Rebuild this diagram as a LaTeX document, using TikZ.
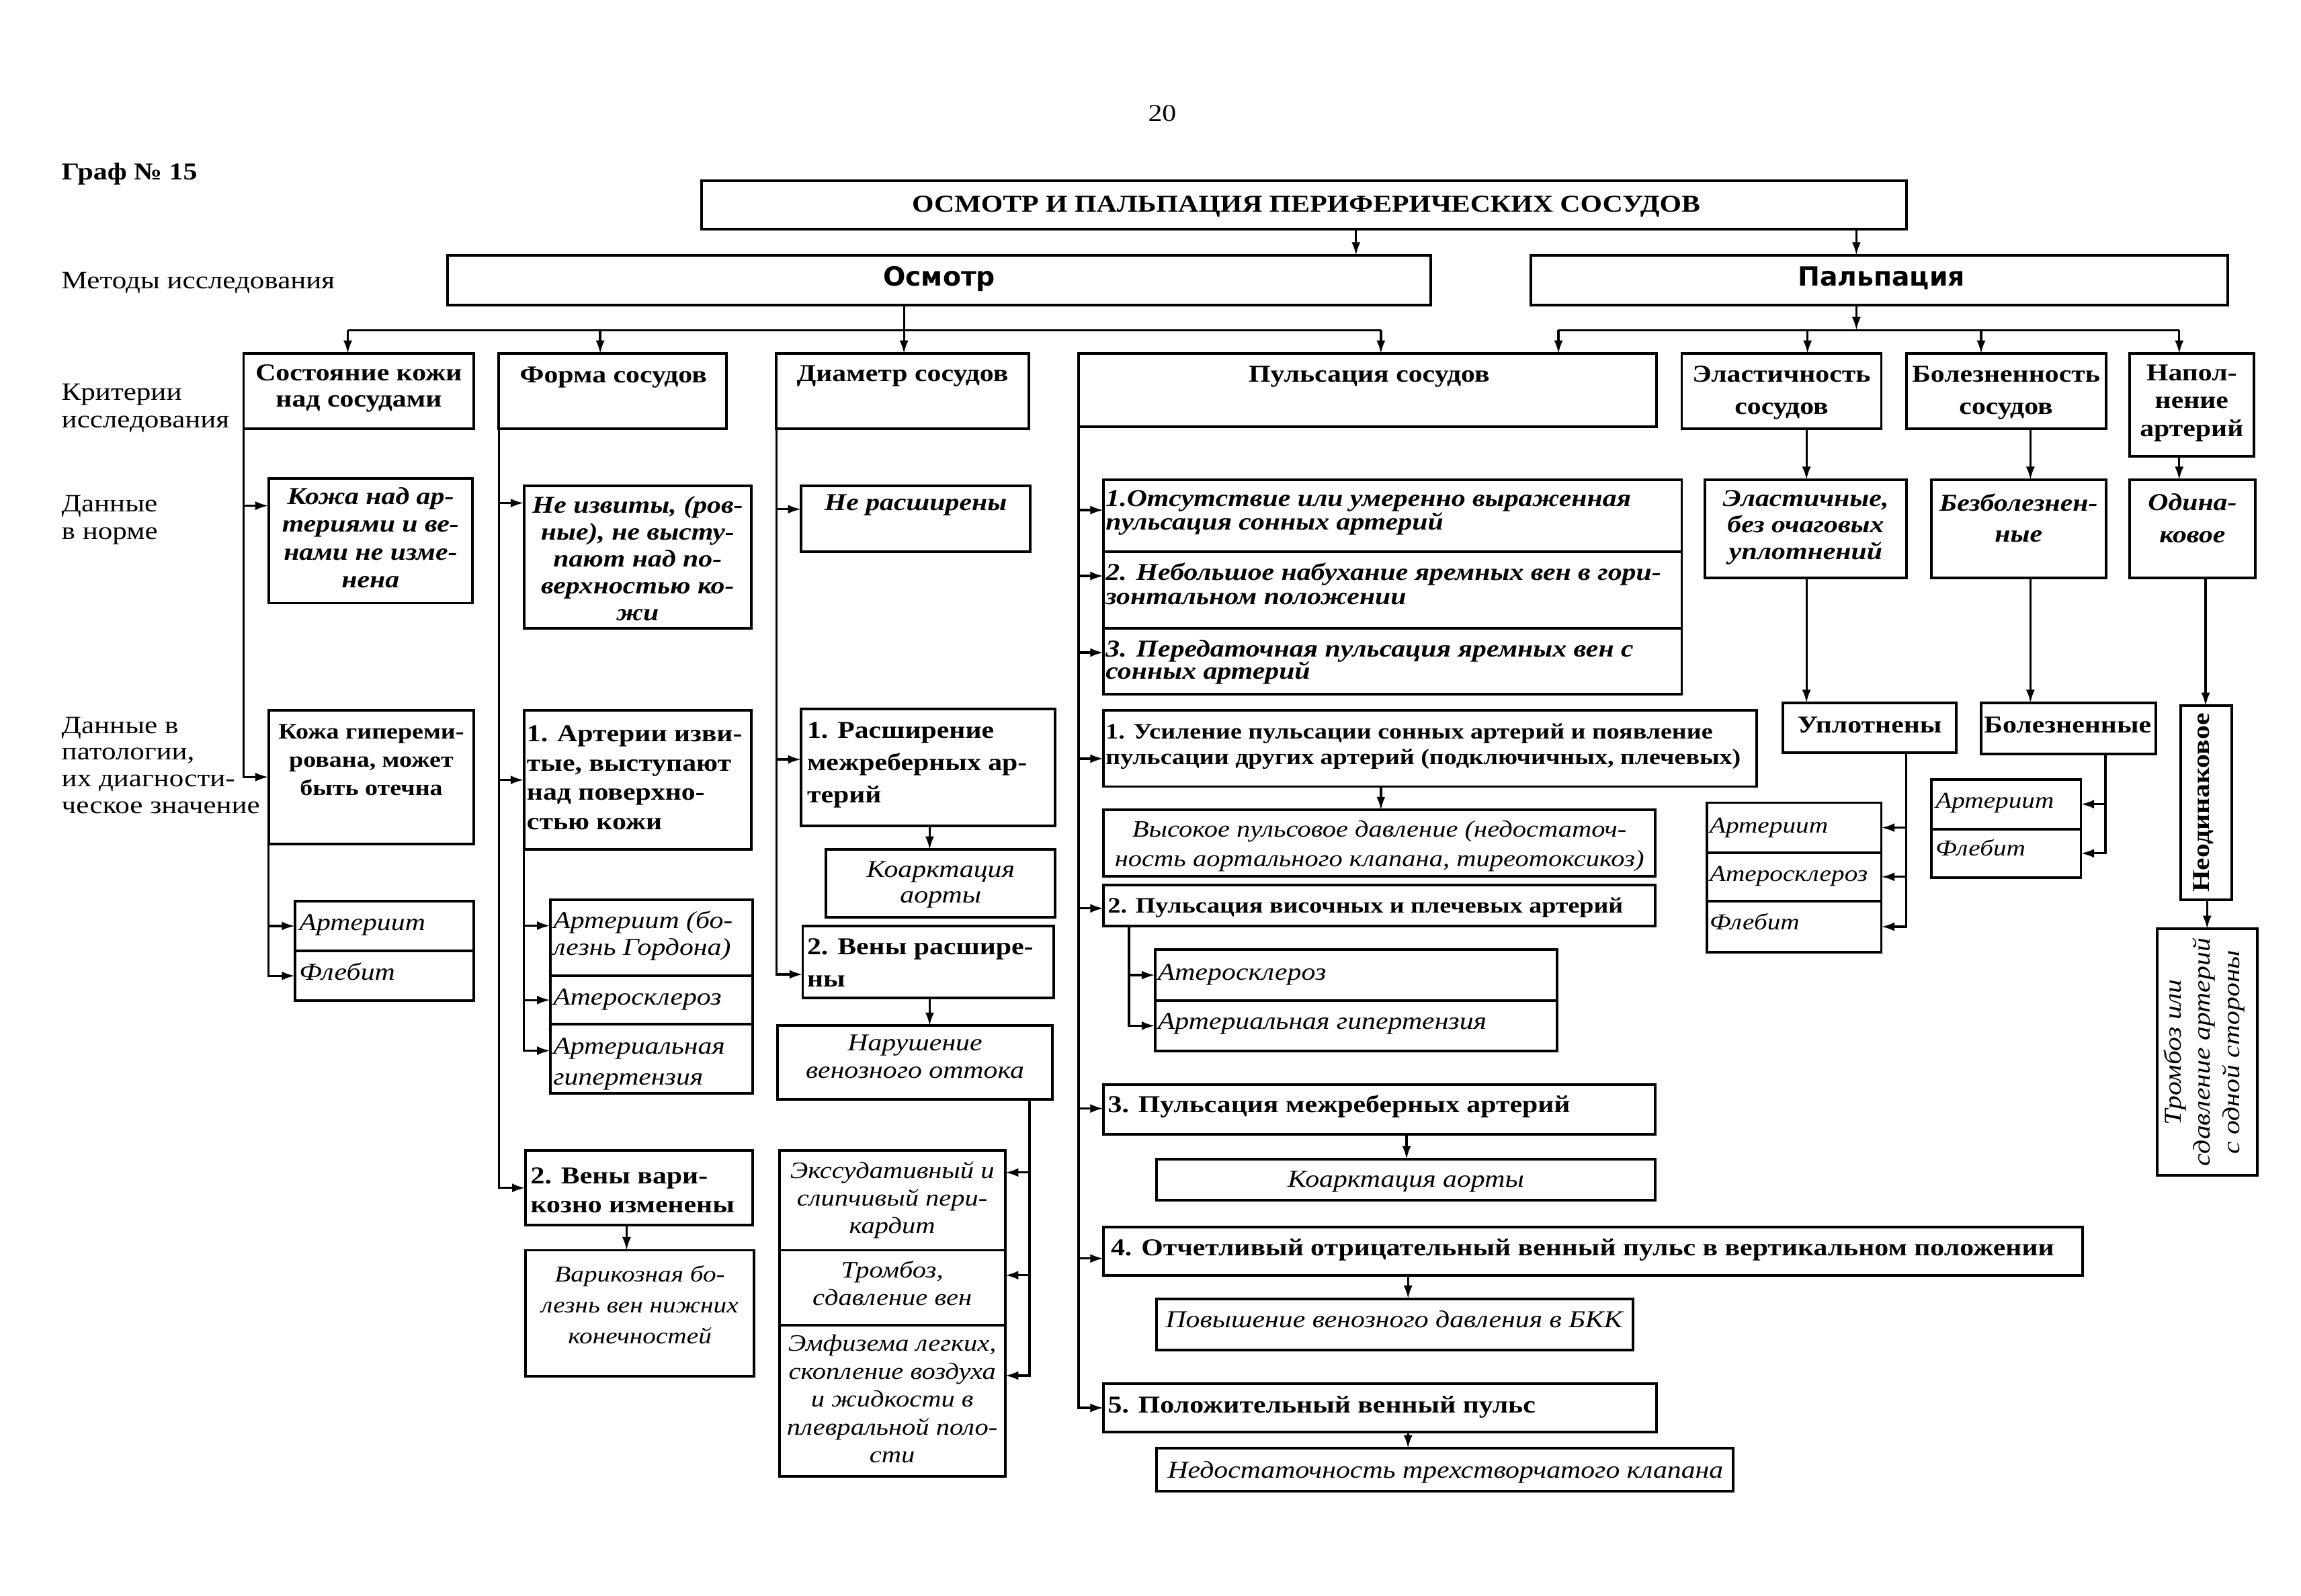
\documentclass[tikz,border=0pt]{standalone}
\usepackage{fontspec}
\setmainfont[FakeStretch=1.16]{Liberation Serif}
\newfontfamily\hsans{DejaVu Sans}
\usetikzlibrary{arrows.meta}
\newcommand{\myfs}[2]{\fontsize{#1}{#2}\selectfont}
\newcommand{\mkbox}[5]{\node[bx, minimum width={(#4)-(#2)}, minimum height={(#5)-(#3)}] (#1) at ({((#2)+(#4))/2},{((#3)+(#5))/2}) {};}
\tikzset{
 bx/.style={draw, line width=1.8pt, inner sep=0pt, outer sep=0pt},
 ln/.style={line width=1.5pt},
 arr/.style={line width=1.5pt, -{Latex[length=9pt,width=6pt]}},
 txt/.style={inner sep=0pt, outer sep=0pt, font=\myfs{16.5}{18}},
 txc/.style={txt, align=center, anchor=north, yshift=-1.5pt},
 txl/.style={txt, align=left, anchor=north west, yshift=-1.5pt},
 one/.style={txt, anchor=mid, yshift=-2.5pt},
 onel/.style={txt, anchor=mid west, yshift=-2.5pt},
 bf/.style={font=\bfseries\myfs{16.5}{18}},
 it/.style={font=\itshape\myfs{16.5}{18}},
 its/.style={font=\itshape\myfs{15.5}{18}},
 bi/.style={font=\bfseries\itshape\myfs{16.5}{18}},
}
\begin{document}
\begin{tikzpicture}[x=1pt,y=-1pt]
\useasboundingbox (0,0) rectangle (1568,1087.6);
\fill[white] (0,0) rectangle (1568,1087.6);
% ---------- boxes ----------
\mkbox{T}{478}{123}{1299}{156}
\mkbox{O}{305}{174}{975}{208}
\mkbox{P}{1043}{174}{1518}{208}
\mkbox{C1}{166}{241}{323}{292}
\mkbox{C2}{340}{241}{495}{292}
\mkbox{C3}{529}{241}{701}{292}
\mkbox{C4}{735}{241}{1129}{291}
\mkbox{C5}{1146}{241}{1282}{292}
\mkbox{C6}{1299}{241}{1435}{292}
\mkbox{C7}{1451}{241}{1536}{311}
\mkbox{N1}{183}{326}{322}{411}
\mkbox{N2}{357}{331}{512}{428}
\mkbox{N3}{546}{331}{702}{376}
\mkbox{N4a}{752}{327}{1146}{376}
\mkbox{N4b}{752}{376}{1146}{428}
\mkbox{N4c}{752}{428}{1146}{473}
\mkbox{N5}{1162}{327}{1299}{394}
\mkbox{N6}{1316}{327}{1435}{394}
\mkbox{N7}{1451}{327}{1537}{394}
\mkbox{P1}{183}{484}{323}{575}
\mkbox{P1a}{201}{614}{323}{648}
\mkbox{P1b}{201}{648}{323}{682}
\mkbox{P2}{357}{484}{512}{579}
\mkbox{P2la}{375}{613}{513}{665}
\mkbox{P2lb}{375}{665}{513}{698}
\mkbox{P2lc}{375}{698}{513}{745}
\mkbox{V2}{358}{784}{513}{835}
\mkbox{V2r}{358}{852}{514}{938}
\mkbox{P3}{546}{483}{719}{563}
\mkbox{P3k}{563}{579}{719}{625}
\mkbox{P3v}{547}{631}{718}{680}
\mkbox{P3n}{530}{699}{717}{749}
\mkbox{S1}{531}{784}{685}{852}
\mkbox{S2}{531}{852}{685}{903}
\mkbox{S3}{531}{903}{685}{1006}
\mkbox{U1}{752}{484}{1197}{536}
\mkbox{U1r}{752}{552}{1128}{597}
\mkbox{U2}{752}{603}{1128}{631}
\mkbox{U2a}{787}{647}{1061}{682}
\mkbox{U2b}{787}{682}{1061}{716}
\mkbox{U3}{752}{739}{1128}{773}
\mkbox{U3r}{788}{790}{1128}{818}
\mkbox{U4}{752}{836}{1419}{869}
\mkbox{U4r}{788}{885}{1113}{920}
\mkbox{U5}{752}{943}{1129}{976}
\mkbox{U5r}{788}{987}{1181}{1016}
\mkbox{R1}{1215}{479}{1333}{513}
\mkbox{R1a}{1163}{547}{1282}{581}
\mkbox{R1b}{1163}{581}{1282}{614}
\mkbox{R1c}{1163}{614}{1282}{649}
\mkbox{R2}{1350}{479}{1469}{514}
\mkbox{R2a}{1316}{531}{1418}{565}
\mkbox{R2b}{1316}{565}{1418}{598}
\mkbox{R3}{1486}{481}{1521}{613}
\mkbox{R4}{1470}{633}{1538}{801}
% ---------- bus coordinates ----------
\coordinate (bA) at (237,225);
\coordinate (bF) at (409,225);
\coordinate (bB) at (941,225);
\coordinate (pA) at (1062,225);
\coordinate (pE) at (1231.7,225);
\coordinate (pB) at (1350,225);
\coordinate (pN) at (1485,225);
\coordinate (pP) at (1265,225);
% ---------- connectors: top ----------
\draw[arr] (T.south -| 924,0) -- (O.north -| 924,0);
\draw[arr] (T.south -| 1265,0) -- (P.north -| 1265,0);
\draw[arr] (O.south -| 616,0) -- (C3.north -| 616,0);
\draw[ln] (bA) -- (bB);
\draw[arr] (bA) -- (C1.north -| bA);
\draw[arr] (bF) -- (C2.north -| bF);
\draw[arr] (bB) -- (C4.north -| bB);
\draw[arr] (P.south -| pP) -- (pP);
\draw[ln] (pA) -- (pN);
\draw[arr] (pA) -- (C4.north -| pA);
\draw[arr] (pE) -- (C5.north -| pE);
\draw[arr] (pB) -- (C6.north -| pB);
\draw[arr] (pN) -- (C7.north -| pN);
% ---------- column 1 ----------
\draw[arr] (C1.south west) |- (N1.west |- 0,344.6);
\draw[arr] (C1.south west) |- (P1.west);
\draw[arr] (P1.south west) |- (P1a.west);
\draw[arr] (P1.south west) |- (P1b.west);
% ---------- column 2 ----------
\draw[arr] (C2.south west) |- (N2.west |- 0,342.8);
\draw[arr] (C2.south west) |- (P2.west);
\draw[arr] (C2.south west) |- (V2.west);
\draw[arr] (P2.south west) |- (P2la.west |- 0,630.8);
\draw[arr] (P2.south west) |- (P2lb.west);
\draw[arr] (P2.south west) |- (P2lc.west |- 0,716);
\draw[arr] (V2.south -| 427,0) -- (V2r.north -| 427,0);
% ---------- column 3 ----------
\draw[arr] (C3.south west) |- (N3.west |- 0,347);
\draw[arr] (C3.south west) |- (P3.west |- 0,517.5);
\draw[arr] (C3.south west) |- (P3v.west |- 0,664);
\draw[arr] (P3.south -| 633.5,0) -- (P3k.north -| 633.5,0);
\draw[arr] (P3v.south -| 633.5,0) -- (P3n.north -| 633.5,0);
\draw[arr] (P3n.south -| 701.6,0) |- (S1.east |- 0,799);
\draw[arr] (P3n.south -| 701.6,0) |- (S2.east |- 0,869);
\draw[arr] (P3n.south -| 701.6,0) |- (S3.east |- 0,937.4);
% ---------- column 4 ----------
\draw[arr] (C4.south west) |- (N4a.west |- 0,347.6);
\draw[arr] (C4.south west) |- (N4b.west |- 0,392.5);
\draw[arr] (C4.south west) |- (N4c.west |- 0,444.7);
\draw[arr] (C4.south west) |- (U1.west |- 0,517);
\draw[arr] (C4.south west) |- (U2.west |- 0,619);
\draw[arr] (C4.south west) |- (U3.west |- 0,755.4);
\draw[arr] (C4.south west) |- (U4.west |- 0,857.6);
\draw[arr] (C4.south west) |- (U5.west |- 0,959.4);
\draw[arr] (U1.south -| 941,0) -- (U1r.north -| 941,0);
\draw[arr] (U2.south -| 769.3,0) |- (U2a.west);
\draw[arr] (U2.south -| 769.3,0) |- (U2b.west);
\draw[arr] (U3.south -| 958.5,0) -- (U3r.north -| 958.5,0);
\draw[arr] (U4.south -| 959.5,0) -- (U4r.north -| 959.5,0);
\draw[arr] (U5.south -| 959.5,0) -- (U5r.north -| 959.5,0);
% ---------- right ----------
\draw[arr] (C5.south -| 1231,0) -- (N5.north -| 1231,0);
\draw[arr] (N5.south -| 1231,0) -- (R1.north -| 1231,0);
\draw[arr] (C6.south -| 1383.6,0) -- (N6.north -| 1383.6,0);
\draw[arr] (N6.south -| 1383.6,0) -- (R2.north -| 1383.6,0);
\draw[arr] (C7.south -| 1485,0) -- (N7.north -| 1485,0);
\draw[arr] (N7.south -| 1503,0) -- (R3.north -| 1503,0);
\draw[arr] (R3.south -| 1504,0) -- (R4.north -| 1504,0);
\draw[arr] (R1.south -| 1299,0) |- (R1a.east);
\draw[arr] (R1.south -| 1299,0) |- (R1b.east);
\draw[arr] (R1.south -| 1299,0) |- (R1c.east);
\draw[arr] (R2.south -| 1434.7,0) |- (R2a.east);
\draw[arr] (R2.south -| 1434.7,0) |- (R2b.east);
% ---------- texts: top ----------
\node[one] (t20) at (792,77.7) {20};
\node[onel, bf] (tgraf) at (42,117.8) {Граф № 15};
\node[one, font=\bfseries\myfs{16.5}{19}] (tT) at (890,139.5) {ОСМОТР И ПАЛЬПАЦИЯ ПЕРИФЕРИЧЕСКИХ СОСУДОВ};
\node[one, font=\hsans\bfseries\myfs{18}{20}] (tO) at (640,190) {Осмотр};
\node[one, font=\hsans\bfseries\myfs{18}{20}] (tP) at (1282,190) {Пальпация};
\node[onel, font=\myfs{17}{19}] (lM) at (42,192) {Методы исследования};
\node[txl, font=\myfs{17}{18.7}] (lK) at (42,260) {Критерии\\исследования};
\node[txl, font=\myfs{17}{19}] (lD) at (42,336) {Данные\\в норме};
\node[txl, font=\myfs{17}{18.2}] (lP) at (42,487) {Данные в\\патологии,\\их диагности-\\ческое значение};
% ---------- criteria ----------
\node[txc, font=\bfseries\myfs{16.5}{18}] (tC1) at (244.5,247) {Состояние кожи\\над сосудами};
\node[one, bf] (tC2) at (418,255.8) {Форма сосудов};
\node[one, bf] (tC3) at (615,255) {Диаметр сосудов};
\node[one, bf] (tC4) at (933,255.6) {Пульсация сосудов};
\node[txc, font=\bfseries\myfs{16.5}{22}] (tC5) at (1214,248) {Эластичность\\сосудов};
\node[txc, font=\bfseries\myfs{16.5}{22}] (tC6) at (1367,248) {Болезненность\\сосудов};
\node[txc, font=\bfseries\myfs{16.5}{19}] (tC7) at (1493.5,247) {Напол-\\нение\\артерий};
% ---------- norm ----------
\node[txc, font=\bfseries\itshape\myfs{16.5}{19}] (tN1) at (252.5,330.6) {Кожа над ар-\\териями и ве-\\нами не изме-\\нена};
\node[txc, font=\bfseries\itshape\myfs{16.5}{18.4}] (tN2) at (434.5,336.5) {Не извиты, (ров-\\ные), не высту-\\пают над по-\\верхностью ко-\\жи};
\node[one, bi] (tN3) at (624,342.9) {Не расширены};
\node[txl, font=\bfseries\itshape\myfs{16.5}{15.4}] (tN4a) at (753.5,332.4) {1.Отсутствие или умеренно выраженная\\пульсация сонных артерий};
\node[txl, font=\bfseries\itshape\myfs{16.5}{16.4}] (tN4b) at (753.5,382.3) {2. Небольшое набухание яремных вен в гори-\\зонтальном положении};
\node[txl, font=\bfseries\itshape\myfs{16.5}{15.5}] (tN4c) at (753.5,434.5) {3. Передаточная пульсация яремных вен с\\сонных артерий};
\node[txc, font=\bfseries\itshape\myfs{16.5}{18.3}] (tN5) at (1230.5,332.4) {Эластичные,\\без очаговых\\уплотнений};
\node[txc, font=\bfseries\itshape\myfs{16.5}{21}] (tN6) at (1375.5,335) {Безболезнен-\\ные};
\node[txc, font=\bfseries\itshape\myfs{16.5}{22}] (tN7) at (1494,335) {Одина-\\ковое};
% ---------- pathology: columns 1-3 ----------
\node[txc, font=\bfseries\myfs{15}{19.4}] (tP1) at (253,492) {Кожа гипереми-\\рована, может\\быть отечна};
\node[onel, it] (tP1a) at (204,629) {Артериит};
\node[onel, it] (tP1b) at (204,663) {Флебит};
\node[txl, font=\bfseries\myfs{16.5}{19.9}] (tP2) at (359,493) {1. Артерии изви-\\тые, выступают\\над поверхно-\\стью кожи};
\node[txl, font=\itshape\myfs{16.5}{18.3}] (tP2la) at (377,619.3) {Артериит (бо-\\лезнь Гордона)};
\node[onel, it] (tP2lb) at (377,680) {Атеросклероз};
\node[txl, font=\itshape\myfs{16.5}{21}] (tP2lc) at (377,706) {Артериальная\\гипертензия};
\node[txl, font=\bfseries\myfs{16.5}{19.8}] (tV2) at (361.6,794) {2. Вены вари-\\козно изменены};
\node[txc, font=\itshape\myfs{15.5}{21}] (tV2r) at (436,861) {Варикозная бо-\\лезнь вен нижних\\конечностей};
\node[txl, font=\bfseries\myfs{16.5}{22}] (tP3) at (550,490.6) {1. Расширение\\межреберных ар-\\терий};
\node[txc, font=\itshape\myfs{16.5}{17.4}] (tP3k) at (641,585.6) {Коарктация\\аорты};
\node[txl, font=\bfseries\myfs{16.5}{22}] (tP3v) at (550,638) {2. Вены расшире-\\ны};
\node[txc, font=\itshape\myfs{16.5}{18.8}] (tP3n) at (623.5,703.7) {Нарушение\\венозного оттока};
\node[txc, font=\itshape\myfs{16}{18.7}] (tS1) at (608,790.2) {Экссудативный и\\слипчивый пери-\\кардит};
\node[txc, font=\itshape\myfs{16}{18.6}] (tS2) at (608,858) {Тромбоз,\\сдавление вен};
\node[txc, font=\itshape\myfs{16}{19}] (tS3) at (608,908.2) {Эмфизема легких,\\скопление воздуха\\и жидкости в\\плевральной поло-\\сти};
% ---------- pulse column ----------
\node[txl, font=\bfseries\myfs{15}{17.2}] (tU1) at (753.5,491.8) {1. Усиление пульсации сонных артерий и появление\\пульсации других артерий (подключичных, плечевых)};
\node[txc, font=\itshape\myfs{16}{20}] (tU1r) at (940,557.7) {Высокое пульсовое давление (недостаточ-\\ность аортального клапана, тиреотоксикоз)};
\node[onel, font=\bfseries\myfs{15}{18}] (tU2) at (755,617.3) {2. Пульсация височных и плечевых артерий};
\node[onel, it] (tU2a) at (789,663) {Атеросклероз};
\node[onel, it] (tU2b) at (789,696.5) {Артериальная гипертензия};
\node[onel, bf] (tU3) at (755,753.3) {3. Пульсация межреберных артерий};
\node[one, it] (tU3r) at (958,804) {Коарктация аорты};
\node[onel, bf] (tU4) at (757,850.7) {4. Отчетливый отрицательный венный пульс в вертикальном положении};
\node[one, it] (tU4r) at (950,900) {Повышение венозного давления в БКК};
\node[onel, bf] (tU5) at (755,957.8) {5. Положительный венный пульс};
\node[one, it] (tU5r) at (985,1002.6) {Недостаточность трехстворчатого клапана};
% ---------- right part ----------
\node[one, bf] (tR1) at (1274,494.5) {Уплотнены};
\node[onel, its] (tR1a) at (1165,562.8) {Артериит};
\node[onel, its] (tR1b) at (1165,595.7) {Атеросклероз};
\node[onel, its] (tR1c) at (1165,628.6) {Флебит};
\node[one, bf] (tR2) at (1409,494.6) {Болезненные};
\node[onel, its] (tR2a) at (1319,545.7) {Артериит};
\node[onel, its] (tR2b) at (1319,578.6) {Флебит};
\node[txt, bf, anchor=mid, rotate=90] (tR3) at (1503,547) {Неодинаковое};
\node[txt, font=\itshape\myfs{16.5}{20}, align=center, anchor=center, rotate=90] (tR4) at (1502,717) {Тромбоз или\\сдавление артерий\\с одной стороны};
\end{tikzpicture}
\end{document}
